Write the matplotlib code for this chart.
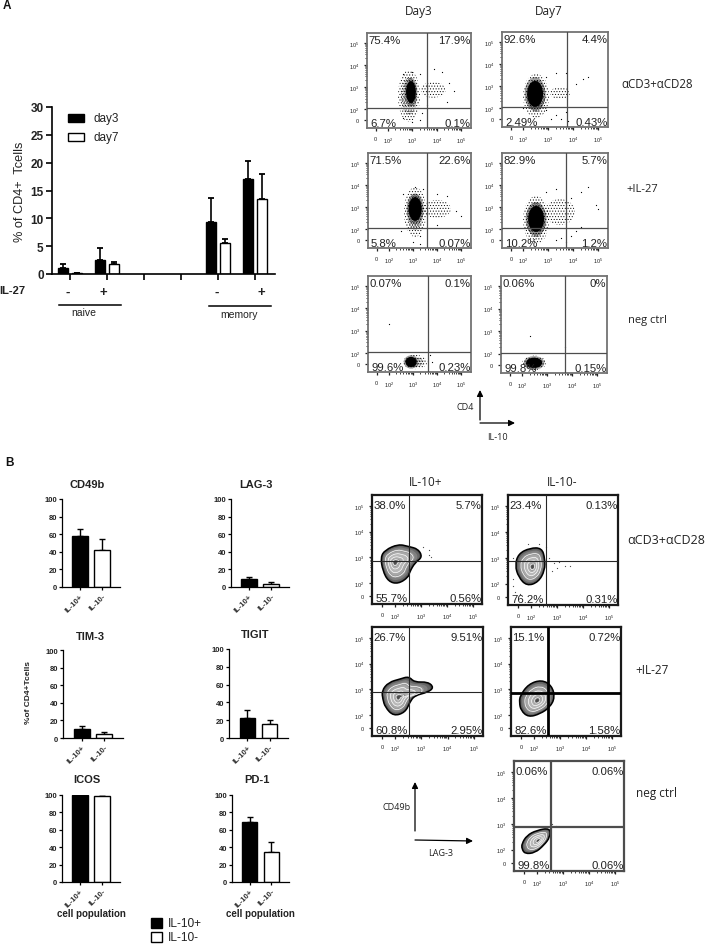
import numpy as np
import matplotlib
matplotlib.use("Agg")
import matplotlib.pyplot as plt
from matplotlib.patches import Ellipse, PathPatch, Rectangle
from matplotlib.path import Path

plt.rcParams['font.family'] = ['Liberation Sans', 'DejaVu Sans']
plt.rcParams['hatch.linewidth'] = 0.4
plt.rcParams['mathtext.default'] = 'regular'

W, H = 708, 945

# panel A bars
a_days = ["day3", "day7"]
a_day3 = [1.1, 2.5, 0, 0, 9.3, 17.0]
a_day7 = [0.2, 1.8, 0, 0, 5.5, 13.5]
a_day3_top = [1.8, 4.6, 0, 0, 13.7, 20.3]
a_day7_top = [0.25, 2.2, 0, 0, 6.3, 18.0]
a_yticks = [0, 5, 10, 15, 20, 25, 30]

# panel B bars
b_names = ["CD49b", "LAG-3", "TIM-3", "TIGIT", "ICOS", "PD-1"]
b_cats = ["IL-10+", "IL-10-"]
b_vals = [[58, 42], [9, 3.5], [10, 4.5], [22.5, 16], [99.5, 98.5], [68.5, 34]]
b_tops = [[66, 54], [11.5, 5.5], [13.5, 6.5], [32, 20], [100, 99], [74.5, 45.5]]
b_yticks = [0, 20, 40, 60, 80, 100]

# flow plots, panel A: quadrant percentages (TL, TR, BL, BR)
a_quads = [["75.4%", "17.9%", "6.7%", "0.1%"],
           ["92.6%", "4.4%", "2.49%", "0.43%"],
           ["71.5%", "22.6%", "5.8%", "0.07%"],
           ["82.9%", "5.7%", "10.2%", "1.2%"],
           ["0.07%", "0.1%", "99.6%", "0.23%"],
           ["0.06%", "0%", "99.8%", "0.15%"]]
a_gates = [(3.60, 2.05), (3.75, 2.05), (3.60, 2.05), (3.70, 2.05), (3.64, 2.05), (3.70, 2.05)]
# event clouds: (x, y, rx, ry) in decades
a_core = [(2.94, 2.77, .20, .50), (2.47, 2.64, .32, .59), (3.09, 2.91, .27, .54),
          (2.51, 2.46, .32, .59), (2.92, 1.59, .23, .23), (2.47, 1.59, .32, .23)]
a_halo = [(2.86, 2.59, .45, 1.18), (2.51, 2.55, .52, 1.00), (3.09, 2.77, .46, 1.13),
          (2.51, 2.41, .52, 1.09), (3.09, 1.59, .50, .32), (2.47, 1.59, .48, .32)]
a_side = [(3.85, 2.87, .51, .36), (3.47, 2.68, .40, .27), (3.99, 2.91, .58, .41),
          (3.47, 2.77, .60, .59), None, None]
a_stray = [[(2.6, 3.6), (3.0, 3.7), (3.3, 3.6), (3.9, 3.8), (4.2, 3.7), (4.5, 3.2), (4.7, 2.8), (3.4, 1.8),
            (3.0, 1.4), (2.6, 1.6), (3.3, 1.5), (4.4, 2.3), (3.6, 2.2)],
           [(2.9, 3.4), (3.3, 3.6), (3.7, 3.6), (4.1, 3.1), (4.4, 3.3), (4.6, 3.4), (3.3, 1.7), (3.5, 1.5),
            (3.8, 1.4), (3.1, 1.5), (3.7, 1.8), (2.0, 2.0), (2.9, 1.9)],
           [(2.6, 3.6), (3.1, 3.9), (3.4, 3.8), (4.0, 3.6), (4.4, 3.5), (4.8, 2.8), (5.0, 2.6), (3.3, 1.7),
            (3.0, 1.4), (3.3, 1.3), (4.0, 2.2), (2.5, 1.9)],
           [(2.9, 3.7), (3.3, 3.8), (3.9, 3.4), (4.3, 3.7), (4.6, 3.9), (4.9, 3.1), (5.0, 2.9), (3.3, 1.5),
            (3.5, 1.6), (3.7, 1.4), (3.9, 1.7), (4.1, 1.9), (4.3, 2.1)],
           [(2.0, 3.3), (3.8, 1.6), (4.1, 1.5), (3.7, 1.9)],
           [(2.3, 2.8), (3.7, 2.3)]]

# flow plots, panel B
b_quads = [["38.0%", "5.7%", "55.7%", "0.56%"],
           ["23.4%", "0.13%", "76.2%", "0.31%"],
           ["26.7%", "9.51%", "60.8%", "2.95%"],
           ["15.1%", "0.72%", "82.6%", "1.58%"],
           ["0.06%", "0.06%", "99.8%", "0.06%"]]
b_gates = [(2.54, 2.85), (2.58, 2.89), (2.54, 2.89), (2.54, 2.85), (2.54, 2.89)]
b_peaks = [(2.00, 2.80), (2.07, 2.65), (2.13, 2.68), (2.13, 2.55), (2.06, 2.36)]
b_blob1 = [(1.45, 3.00), (1.62, 3.28), (2.13, 3.51), (2.52, 3.42), (2.90, 3.32), (3.06, 3.00),
           (2.78, 2.80), (2.56, 2.41), (2.52, 2.22), (2.13, 1.96), (1.75, 2.05), (1.53, 2.48)]
b_blob2 = [(1.39, 2.71), (1.52, 3.16), (1.97, 3.38), (2.42, 3.38), (2.54, 2.97), (2.54, 2.52),
           (2.29, 2.06), (1.84, 1.91), (1.52, 2.26)]
b_blob3 = [(1.49, 2.94), (1.75, 3.27), (2.20, 3.40), (2.52, 3.50), (2.74, 3.27), (3.25, 3.29), (3.48, 3.07),
           (3.25, 2.88), (2.74, 2.75), (2.56, 2.49), (2.39, 2.10), (1.94, 1.95), (1.62, 2.30), (1.53, 2.62)]
b_blob4 = [(1.47, 2.75), (1.79, 3.20), (2.30, 3.37), (2.69, 3.14), (2.81, 2.68), (2.62, 2.30),
           (2.24, 2.04), (1.79, 1.91), (1.50, 2.17), (1.44, 2.49)]
b_blob5 = [(1.42, 2.23), (1.61, 2.55), (1.99, 2.75), (2.51, 2.84), (2.51, 2.49), (2.27, 2.17),
           (1.93, 1.88), (1.54, 1.84), (1.42, 2.04)]
b_blobs = [b_blob1, b_blob2, b_blob3, b_blob4, b_blob5]
b_stray = [[(3.1, 3.4), (3.3, 3.3), (3.4, 3.0), (3.3, 3.1)],
           [(1.3, 2.2), (1.3, 1.9), (1.4, 1.7), (1.6, 1.6), (1.9, 3.55), (2.3, 3.55), (2.7, 3.0), (2.9, 2.8),
            (3.1, 2.85), (3.3, 2.7), (3.5, 2.7), (3.0, 2.6), (2.8, 2.5), (1.3, 3.0), (2.6, 3.4)],
           [], [], [(2.6, 3.0), (2.75, 2.9)]]

fig = plt.figure(figsize=(W / 100, H / 100), dpi=100, facecolor="white")
over = fig.add_axes([0, 0, 1, 1], zorder=10)
over.set_xlim(0, W)
over.set_ylim(H, 0)
over.axis("off")


def px_axes(l, t, r, b):
    return fig.add_axes([l / W, 1 - b / H, (r - l) / W, (b - t) / H])


def txt(x, y, s, **kw):
    kw.setdefault("ha", "center")
    kw.setdefault("va", "center")
    over.text(x, y, s, **kw)


def arrow(x0, y0, x1, y1):
    over.annotate("", xy=(x1, y1), xytext=(x0, y0),
                  arrowprops=dict(arrowstyle="-|>", color="black", lw=0.9, mutation_scale=9, shrinkA=0, shrinkB=0))


minor = [np.log10(m) + d for d in (2, 3, 4) for m in range(2, 10)]


def flow_frame(ax, xlim, ylim, quads, gate, spine_col, spine_lw, gate_col, gate_lw, top_y, bot_y):
    ax.set_xlim(*xlim)
    ax.set_ylim(*ylim)
    ax.set_xticks([1.5, 2, 3, 4, 5])
    ax.set_yticks([1.5, 2, 3, 4, 5])
    ax.set_xticks(minor, minor=True)
    ax.set_yticks(minor, minor=True)
    ax.set_xticklabels(["0", "10$^{2}$", "10$^{3}$", "10$^{4}$", "10$^{5}$"], fontsize=4)
    ax.set_yticklabels(["0", "10$^{2}$", "10$^{3}$", "10$^{4}$", "10$^{5}$"], fontsize=4)
    ax.tick_params(length=2.5, width=0.9, pad=3, colors="#222222")
    ax.tick_params(which="minor", length=1.3, width=0.6, color="#222222")
    for s in ax.spines.values():
        s.set_color(spine_col)
        s.set_linewidth(spine_lw)
    ax.axvline(gate[0], color=gate_col, lw=gate_lw, zorder=4)
    ax.axhline(gate[1], color=gate_col, lw=gate_lw, zorder=4)
    kw = dict(fontsize=8.2, color="#222222", transform=ax.transAxes, zorder=6)
    ax.text(0.01, top_y, quads[0], ha="left", va="center", **kw)
    ax.text(0.995, top_y, quads[1], ha="right", va="center", **kw)
    ax.text(0.03, bot_y, quads[2], ha="left", va="center", **kw)
    ax.text(0.995, bot_y, quads[3], ha="right", va="center", **kw)


def cloud(ax, e, hatch, grow=1.0, zorder=2):
    ax.add_patch(Ellipse((e[0], e[1]), 2 * e[2] * grow, 2 * e[3] * grow, facecolor="none", edgecolor="black",
                         lw=0, hatch=hatch, zorder=zorder))


def smooth_path(pts):
    pts = np.asarray(pts)
    mids = (pts + np.roll(pts, -1, axis=0)) / 2
    verts = [mids[-1]]
    codes = [Path.MOVETO]
    for p, m in zip(pts, mids):
        verts += [p, m]
        codes += [Path.CURVE3, Path.CURVE3]
    return Path(np.array(verts), codes)


def blob(ax, pts, peak):
    pts = np.asarray(pts)
    peak = np.asarray(peak)
    fills = [(1.0, .30), (.94, .40), (.86, .50), (.76, .58), (.64, .66), (.50, .72), (.34, .68), (.2, .5), (.1, .3)]
    for sc, g in fills:
        ax.add_patch(PathPatch(smooth_path(peak + (pts - peak) * sc), facecolor=str(g), edgecolor="none", zorder=2))
    ax.add_patch(PathPatch(smooth_path(pts), facecolor="none", edgecolor="black", lw=1.1, zorder=3))
    for sc in (.7, .5, .32, .16):
        ax.add_patch(PathPatch(smooth_path(peak + (pts - peak) * sc), facecolor="none",
                               edgecolor="white", lw=0.5, zorder=3))


# ---- A: bars
ax = px_axes(52, 108, 275, 275)
pos = np.arange(len(a_day3))
bw = 0.27
for off, vals, tops, col in [(-0.19, a_day3, a_day3_top, "black"), (0.19, a_day7, a_day7_top, "white")]:
    idx = [i for i, v in enumerate(vals) if v > 0]
    xs = pos[idx] + off
    v = np.array(vals)[idx]
    ax.bar(xs, v, bw, color=col, edgecolor="black", lw=1, zorder=2)
    ax.errorbar(xs, v, yerr=[np.zeros(len(v)), np.array(tops)[idx] - v], fmt="none", ecolor="black",
                elinewidth=1.2, capsize=2, capthick=1.3, zorder=1)
ax.set_xlim(-0.486, 5.54)
ax.set_ylim(0, 30)
ax.set_xticks(pos)
ax.set_xticklabels([])
ax.set_yticks(a_yticks)
ax.tick_params(axis="y", labelsize=8.5, length=4, width=1.2, pad=2, labelcolor="#222222")
ax.tick_params(axis="x", length=4, width=1.2)
for t in ax.get_yticklabels():
    t.set_fontweight("bold")
for s in ("top", "right"):
    ax.spines[s].set_visible(False)
for s in ("left", "bottom"):
    ax.spines[s].set_linewidth(1.2)
txt(20, 192, "% of CD4+  Tcells", rotation=90, fontsize=9.2, color="#222222")

over.add_patch(Rectangle((68, 115), 16, 8, facecolor="black", edgecolor="black", lw=1))
over.add_patch(Rectangle((68, 134), 16, 8, facecolor="white", edgecolor="black", lw=1))
txt(93, 119, a_days[0], ha="left", fontsize=8.5, color="#222222")
txt(93, 138, a_days[1], ha="left", fontsize=8.5, color="#222222")

txt(12, 291, "IL-27", fontsize=8, fontweight="bold", color="#222222")
for x, s in [(68, "-"), (103, "+"), (217, "-"), (261, "+")]:
    txt(x, 293, s, fontsize=9.5, fontweight="bold", color="#222222")
over.plot([59, 121], [306, 306], color="black", lw=1.1)
over.plot([209, 271], [307, 307], color="black", lw=1.1)
txt(84, 313, "naive", fontsize=7.5, color="#222222")
txt(239, 315, "memory", fontsize=7.5, color="#222222")

txt(7, 6, "A", fontsize=8.5, fontweight="bold", color="#111111")
txt(9, 463, "B", fontsize=8.5, fontweight="bold", color="#111111")

# ---- A: flow plots
a_boxes = [(367, 34, 471, 129), (502, 33, 608, 128), (368, 154, 471, 249),
           (502, 154, 608, 249), (368, 277, 471, 373), (501, 277, 607, 374)]
for i, box in enumerate(a_boxes):
    ax = px_axes(*box)
    flow_frame(ax, (1.14, 5.40), (1.14, 5.45), a_quads[i], a_gates[i], "0.45", 1.3, "0.3", 0.9, 0.925, 0.055)
    cloud(ax, a_halo[i], "......")
    cloud(ax, a_halo[i], "..........", grow=0.72)
    if a_side[i] is not None:
        cloud(ax, a_side[i], "......")
    c = a_core[i]
    cloud(ax, c, "................", grow=1.3)
    ax.add_patch(Ellipse((c[0], c[1]), 2 * c[2], 2 * c[3], facecolor="black", edgecolor="none", zorder=3))
    sx, sy = zip(*a_stray[i])
    ax.scatter(sx, sy, s=0.8, color="black", linewidths=0, zorder=3)

txt(419, 12, "Day3", fontsize=8.5, family="Open Sans", color="#222222")
txt(549, 12, "Day7", fontsize=8.5, family="Open Sans", color="#222222")
txt(621, 84, "αCD3+αCD28", ha="left", fontsize=8.3, family="Open Sans", color="#222222")
txt(626, 190, "+IL-27", ha="left", fontsize=8, family="Open Sans", color="#222222")
txt(628, 320, "neg ctrl", ha="left", fontsize=8, family="Open Sans", color="#222222")
txt(465, 408, "CD4", fontsize=6.5, family="Open Sans", color="#222222")
txt(497, 438, "IL-10", fontsize=6.5, family="Open Sans", color="#222222")
arrow(480, 421, 480, 391)
arrow(480, 424, 515, 424)

# ---- B: bars
b_boxes = [(62, 500, 120, 588), (231, 500, 289, 588), (63, 651, 123, 739),
           (229, 650, 288, 739), (62, 796, 120, 883), (232, 796, 289, 883)]
title_pos = [(87, 485), (256, 485), (90, 637), (255, 635), (87, 780), (257, 780)]
for i, box in enumerate(b_boxes):
    ax = px_axes(*box)
    xp = np.arange(2)
    ax.bar(xp, b_vals[i], 0.7, color=["black", "white"], edgecolor="black", lw=1, zorder=2)
    ax.errorbar(xp, b_vals[i], yerr=[[0, 0], np.array(b_tops[i]) - np.array(b_vals[i])], fmt="none",
                ecolor="black", elinewidth=1, capsize=2.5, capthick=1, zorder=1)
    ax.set_xlim(-0.82, 1.82)
    ax.set_ylim(0, 100)
    ax.set_yticks(b_yticks)
    ax.set_xticks(xp)
    ax.set_xticklabels(b_cats, rotation=45, ha="right", rotation_mode="anchor", fontsize=5.5, fontweight="bold",
                       color="#333333")
    ax.tick_params(axis="y", labelsize=5.5, length=2.5, width=0.9, pad=1, labelcolor="#222222")
    ax.tick_params(axis="x", length=2.5, width=0.9, pad=1.5)
    for t in ax.get_yticklabels():
        t.set_fontweight("bold")
    for s in ("top", "right"):
        ax.spines[s].set_visible(False)
    for s in ("left", "bottom"):
        ax.spines[s].set_linewidth(0.9)
    txt(*title_pos[i], b_names[i], fontsize=8, fontweight="bold", color="#222222")

txt(29, 693, "%of CD4+Tcells", rotation=90, fontsize=6, fontweight="bold", color="#222222")
txt(91, 914, "cell population", fontsize=7, fontweight="bold", color="#222222")
txt(260, 914, "cell population", fontsize=7, fontweight="bold", color="#222222")
over.add_patch(Rectangle((151, 919), 11, 10, facecolor="black", edgecolor="black", lw=1))
over.add_patch(Rectangle((151, 933), 11, 10, facecolor="white", edgecolor="black", lw=1))
txt(168, 924, b_cats[0], ha="left", fontsize=8.6, color="#222222")
txt(168, 938, b_cats[1], ha="left", fontsize=8.6, color="#222222")

# ---- B: flow plots
b_fboxes = [(372, 496, 482, 605), (508, 496, 618, 606), (372, 628, 483, 737),
            (511, 628, 621, 737), (514, 762, 624, 872)]
b_gate_lw = [0.8, 0.8, 0.8, 2.0, 1.6]
b_gate_col = ["0.15", "0.15", "0.15", "black", "0.3"]
b_spine_col = ["0.1", "0.1", "0.1", "0.1", "0.3"]
for i, box in enumerate(b_fboxes):
    ax = px_axes(*box)
    flow_frame(ax, (1.12, 5.35), (1.18, 5.42), b_quads[i], b_gates[i], b_spine_col[i], 1.6,
               b_gate_col[i], b_gate_lw[i], 0.91, 0.055)
    blob(ax, b_blobs[i], b_peaks[i])
    if b_stray[i]:
        sx, sy = zip(*b_stray[i])
        ax.scatter(sx, sy, s=0.8, color="0.3", linewidths=0, zorder=3)

txt(426, 482, "IL-10+", fontsize=8.5, family="Open Sans", color="#222222")
txt(562, 483, "IL-10-", fontsize=8.5, family="Open Sans", color="#222222")
txt(627, 540, "αCD3+αCD28", ha="left", fontsize=9, family="Open Sans", color="#222222")
txt(635, 670, "+IL-27", ha="left", fontsize=8.5, family="Open Sans", color="#222222")
txt(636, 793, "neg ctrl", ha="left", fontsize=8.5, family="Open Sans", color="#222222")
txt(397, 807, "CD49b", fontsize=6.5, family="Open Sans", color="#222222")
txt(441, 853, "LAG-3", fontsize=6.5, family="Open Sans", color="#222222")
arrow(415, 832, 415, 783)
arrow(415, 841, 473, 842)

fig.savefig("out.png", dpi=100)
